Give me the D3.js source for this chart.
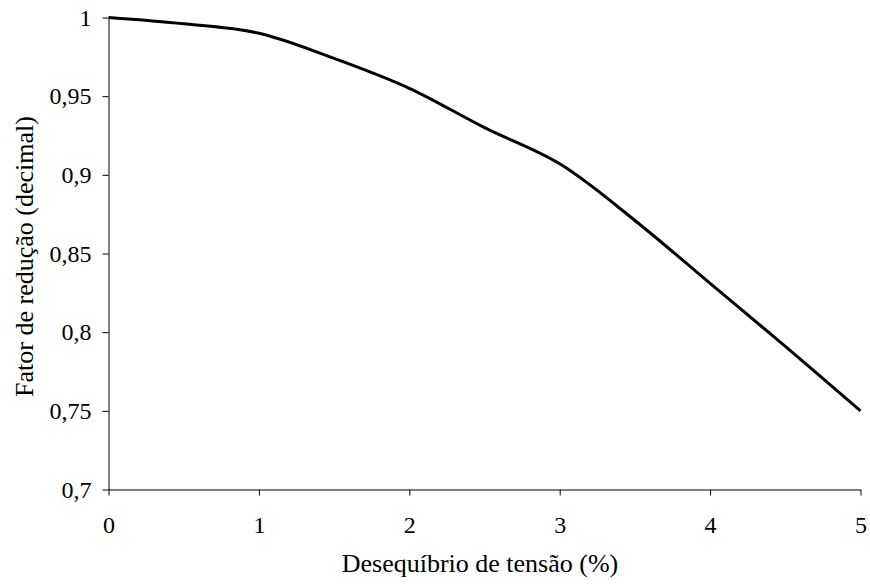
<!DOCTYPE html>
<head>
    <meta charset="utf-8">
    <script src="https://d3js.org/d3.v7.min.js"></script>
    <style>
        body { margin:0; background:#fff; }
        text { font-family: "Liberation Serif", "Times New Roman", serif; fill: #000; }
        .tick text { font-size: 24px; }
        .tick line, .domain { stroke: #000; stroke-width: 1; }
        .title { font-size: 26px; text-anchor: middle; }
        .curve { fill: none; stroke: #000; stroke-width: 3; }
    </style>
</head>
<body>
<script>
    // desequilibrio (%) vs fator de reducao
    var unbalance = [0, 0.5, 1, 1.5, 2, 2.5, 3, 3.5, 4, 4.5, 5];
    var factor = [1.0, 0.996, 0.990, 0.974, 0.955, 0.930, 0.907, 0.871, 0.831, 0.791, 0.75];

    var xTicks = [0, 1, 2, 3, 4, 5];
    var yTicks = [0.7, 0.75, 0.8, 0.85, 0.9, 0.95, 1];

    var width = 870, height = 585;
    var margin = {top: 17.5, left: 108.5};
    var w = 752, h = 472;

    var svg = d3.select("body").append("svg")
        .attr("width", width)
        .attr("height", height);

    var g = svg.append("g")
        .attr("transform", "translate(" + margin.left + "," + margin.top + ")");

    var x = d3.scaleLinear().domain([0, 5]).range([0, w]);
    var y = d3.scaleLinear().domain([0.7, 1]).range([h, 0]);

    var fmt = function(d) { return String(d).replace(".", ","); };

    g.append("g")
        .attr("transform", "translate(0," + h + ")")
        .call(d3.axisBottom(x).tickValues(xTicks).tickSize(6).tickSizeOuter(0).tickPadding(20).tickFormat(fmt))
        .attr("font-family", "Liberation Serif").attr("font-size", 24);

    g.append("g")
        .call(d3.axisLeft(y).tickValues(yTicks).tickSize(6).tickSizeOuter(0).tickPadding(11).tickFormat(fmt))
        .attr("font-family", "Liberation Serif").attr("font-size", 24);

    var line = d3.line()
        .x((d, i) => x(unbalance[i]))
        .y(d => y(d))
        .curve(d3.curveCatmullRom.alpha(0.5));

    g.append("path")
        .datum(factor)
        .attr("class", "curve")
        .attr("d", line);

    svg.append("text")
        .attr("class", "title")
        .attr("x", 480)
        .attr("y", 572)
        .text("Desequíbrio de tensão (%)");

    svg.append("text")
        .attr("class", "title")
        .attr("transform", "translate(33,256.5) rotate(-90)")
        .text("Fator de redução (decimal)");
</script>
</body>
